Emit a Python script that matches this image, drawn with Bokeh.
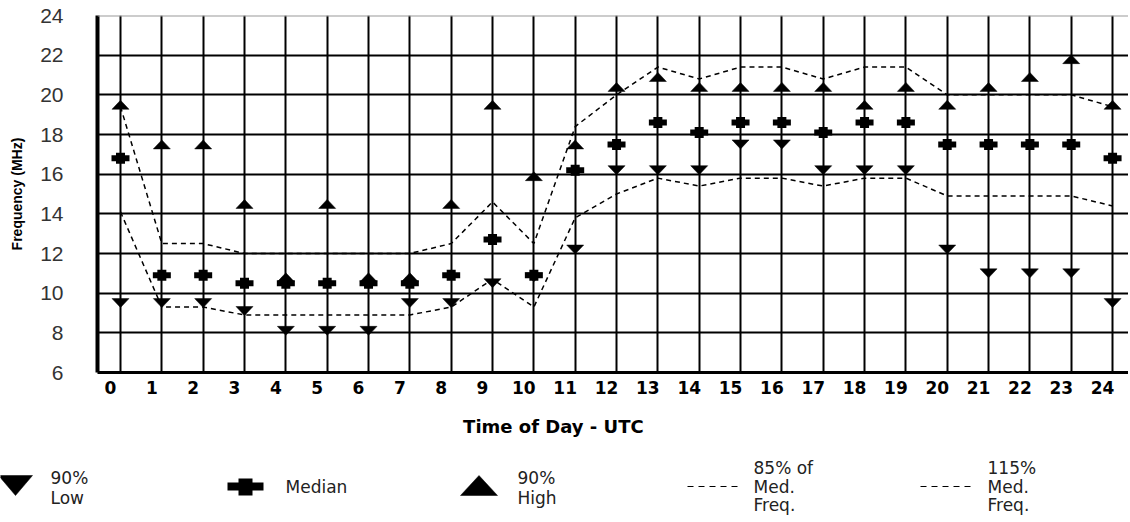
import numpy as np
from bokeh.plotting import figure
from bokeh.models import Range1d, FixedTicker, Grid, Span, LinearAxis
from bokeh.core.properties import value
from bokeh.embed import file_html
from bokeh.resources import INLINE

# ---------------- data ----------------
hours = list(range(25))
high90 = [19.5, 17.5, 17.5, 14.5, 10.8, 14.5, 10.8, 10.8, 14.5, 19.5, 15.9, 17.5, 20.4,
          20.9, 20.4, 20.4, 20.4, 20.4, 19.5, 20.4, 19.5, 20.4, 20.9, 21.8, 19.5]
median = [16.8, 10.9, 10.9, 10.5, 10.5, 10.5, 10.5, 10.5, 10.9, 12.7, 10.9, 16.2, 17.5,
          18.6, 18.1, 18.6, 18.6, 18.1, 18.6, 18.6, 17.5, 17.5, 17.5, 17.5, 16.8]
low90 = [9.5, 9.5, 9.5, 9.1, 8.1, 8.1, 8.1, 9.5, 9.5, 10.5, 10.8, 12.2, 16.2,
         16.2, 16.2, 17.5, 17.5, 16.2, 16.2, 16.2, 12.2, 11.0, 11.0, 11.0, 9.5]
upper115 = [19.4, 12.5, 12.5, 12.0, 12.0, 12.0, 12.0, 12.0, 12.5, 14.6, 12.5, 18.4, 20.0,
            21.4, 20.8, 21.4, 21.4, 20.8, 21.4, 21.4, 20.0, 20.0, 20.0, 20.0, 19.4]
lower85 = [14.1, 9.3, 9.3, 8.9, 8.9, 8.9, 8.9, 8.9, 9.3, 10.7, 9.3, 13.8, 15.0,
           15.8, 15.4, 15.8, 15.8, 15.4, 15.8, 15.8, 14.9, 14.9, 14.9, 14.9, 14.4]
y_ticks = [6, 8, 10, 12, 14, 16, 18, 20, 22, 24]

# ---------------- main chart ----------------
W, H = 1128, 405
LEFT, TOP, BOTTOM = 97, 15, 372
PX_X = 41.336                     # pixels per hour
X0 = -(120 - LEFT) / PX_X
X1 = X0 + (W - LEFT) / PX_X
SHIFT = 10 / PX_X                 # tick labels sit slightly left of their grid lines

p = figure(width=W, height=H, x_range=Range1d(X0, X1), y_range=Range1d(6, 24),
           x_axis_location=None, y_axis_location="left",
           toolbar_location=None, output_backend="svg",
           min_border_left=LEFT, min_border_right=0, min_border_top=TOP,
           min_border_bottom=H - BOTTOM)
p.outline_line_color = None
for g in p.grid:
    g.visible = False

p.add_layout(Grid(dimension=0, ticker=FixedTicker(ticks=hours),
                  grid_line_color="black", grid_line_width=2))
p.add_layout(Grid(dimension=1, ticker=FixedTicker(ticks=y_ticks[1:-1]),
                  grid_line_color="black", grid_line_width=2))
p.add_layout(Span(location=24, dimension="width", line_color="#9a9a9a", line_width=2))

ya = p.yaxis[0]
ya.ticker = FixedTicker(ticks=y_ticks)
ya.axis_line_width = 4
ya.axis_line_color = "black"
ya.major_tick_out = 0
ya.major_tick_in = 0
ya.minor_tick_out = 0
ya.minor_tick_in = 0
ya.major_label_standoff = 34
ya.major_label_text_font = "Liberation Sans"
ya.major_label_text_font_size = "21px"
ya.major_label_text_color = "#333333"
ya.axis_label = "Frequency (MHz)"
ya.axis_label_standoff = 12
ya.axis_label_text_font = "Liberation Sans"
ya.axis_label_text_font_style = "bold"
ya.axis_label_text_font_size = "14px"
ya.axis_label_text_color = "black"

# x axis: labels on a range shifted a few pixels so they sit left of the grid lines
p.extra_x_ranges = {"lab": Range1d(X0 + SHIFT, X1 + SHIFT)}
xa = LinearAxis(x_range_name="lab", ticker=FixedTicker(ticks=hours))
xa.axis_line_width = 3
xa.axis_line_color = "black"
xa.major_tick_out = 0
xa.major_tick_in = 0
xa.minor_tick_out = 0
xa.minor_tick_in = 0
xa.major_label_standoff = 8
xa.major_label_text_font = "DejaVu Sans"
xa.major_label_text_font_style = "bold"
xa.major_label_text_font_size = "17px"
xa.major_label_text_color = "black"
p.add_layout(xa, "below")

# dashed 85% / 115% lines
p.line(hours, upper115, line_color="black", line_width=1.5, line_dash="5 4")
p.line(hours, lower85, line_color="black", line_width=1.5, line_dash="5 4")

# marker geometry (screen px converted to data units)
px_y = (BOTTOM - TOP) / 18.0
dx = 8.5 / PX_X
dy = 4.5 / px_y
h = np.array(hours, dtype=float)
hi = np.array(high90)
lo = np.array(low90)

up_xs = [[a - dx, a + dx, a] for a in h]
up_ys = [[b - dy, b - dy, b + dy] for b in hi]
dn_xs = [[a - dx, a + dx, a] for a in h]
dn_ys = [[b + dy, b + dy, b - dy] for b in lo]
p.patches(dn_xs, dn_ys, fill_color="black", line_color="black", line_width=0.5)
p.patches(up_xs, up_ys, fill_color="black", line_color="black", line_width=0.5)
p.rect(hours, median, width=18, height=6, width_units="screen", height_units="screen",
       fill_color="black", line_color=None)
p.rect(hours, median, width=9, height=11, width_units="screen", height_units="screen",
       fill_color="black", line_color=None)

# ---------------- axis title + legend (page pixel coordinates) ----------------
LH = 113
leg = figure(width=W, height=LH, x_range=Range1d(0, W), y_range=Range1d(H + LH, H),
             x_axis_location=None, y_axis_location=None, toolbar_location=None,
             output_backend="svg", min_border=0)
leg.outline_line_color = None
for g in leg.grid:
    g.visible = False

leg.text([556], [426], text=["Time of Day -  UTC"], text_align="center",
         text_baseline="middle", text_font=value("DejaVu Sans"), text_font_style="bold",
         text_font_size="18px", text_color="black")

leg.patch([-2, 32, 15], [475, 475, 495], fill_color="black", line_color="black", line_width=0.5)
leg.patch([460, 497, 478.5], [495, 495, 475], fill_color="black", line_color="black", line_width=0.5)
leg.rect([245], [486], width=36, height=8, fill_color="black", line_color=None)
leg.rect([245], [486.5], width=14, height=17, fill_color="black", line_color=None)
leg.line([687, 737], [486, 486], line_color="black", line_width=1.2, line_dash="6 5")
leg.line([920, 972], [486, 486], line_color="black", line_width=1.2, line_dash="6 5")

lx = [50, 50, 285, 517, 517, 753, 753, 753, 987, 987, 987]
ly = [477, 497, 486, 477, 497, 467, 486, 504, 467, 486, 504]
lt = ["90%", "Low", "Median", "90%", "High", "85% of", "Med.", "Freq.", "115%", "Med.", "Freq."]
leg.text(lx, ly, text=lt, text_align="left", text_baseline="middle",
         text_font=value("DejaVu Sans"), text_font_size="17px", text_color="#222222")

# two independent roots, stacked, so the legend canvas is not frame-aligned with the chart
open("out.html", "w").write(file_html([p, leg], INLINE))
